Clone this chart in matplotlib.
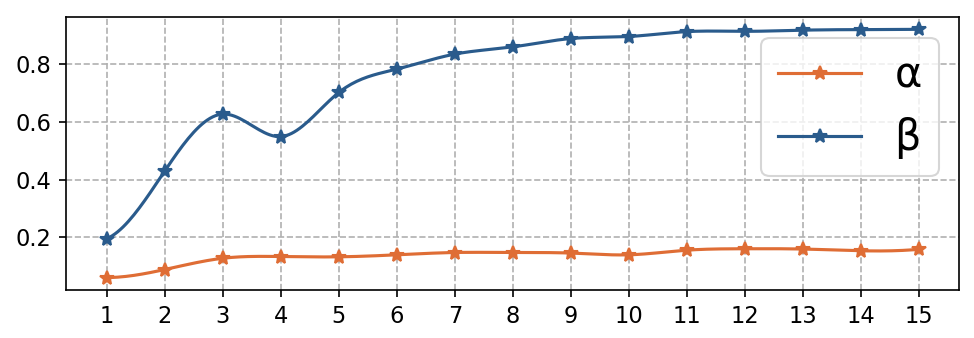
import numpy as np
import matplotlib
matplotlib.use("Agg")
import matplotlib.pyplot as plt

# values
steps = [1, 2, 3, 4, 5, 6, 7, 8, 9, 10, 11, 12, 13, 14, 15]
alpha_vals = [0.060, 0.088, 0.127, 0.133, 0.132, 0.139, 0.147, 0.147, 0.145, 0.139,
              0.155, 0.160, 0.159, 0.153, 0.158]
beta_vals = [0.195, 0.430, 0.627, 0.549, 0.702, 0.783, 0.835, 0.860, 0.889, 0.896,
             0.913, 0.914, 0.918, 0.920, 0.921]

ORANGE = "#DF6D35"
BLUE = "#2A5B8C"


def smooth(x, y, n=300):
    # cubic spline (not-a-knot), same as scipy make_interp_spline k=3
    x = np.asarray(x, float)
    y = np.asarray(y, float)
    try:
        from scipy.interpolate import make_interp_spline
        xs = np.linspace(x[0], x[-1], n)
        return xs, make_interp_spline(x, y, k=3)(xs)
    except ImportError:
        pass
    m = len(x)
    h = np.diff(x)
    A = np.zeros((m, m))
    b = np.zeros(m)
    for i in range(1, m - 1):
        A[i, i - 1] = h[i - 1]
        A[i, i] = 2 * (h[i - 1] + h[i])
        A[i, i + 1] = h[i]
        b[i] = 3 * ((y[i + 1] - y[i]) / h[i] - (y[i] - y[i - 1]) / h[i - 1])
    # not-a-knot ends
    A[0, 0], A[0, 1], A[0, 2] = h[1], -(h[0] + h[1]), h[0]
    A[-1, -3], A[-1, -2], A[-1, -1] = h[-1], -(h[-2] + h[-1]), h[-2]
    c = np.linalg.solve(A, b)
    bb = (y[1:] - y[:-1]) / h - h * (2 * c[:-1] + c[1:]) / 3
    d = (c[1:] - c[:-1]) / (3 * h)
    xs = np.linspace(x[0], x[-1], n)
    idx = np.clip(np.searchsorted(x, xs) - 1, 0, m - 2)
    dx = xs - x[idx]
    ys = y[idx] + bb[idx] * dx + c[idx] * dx ** 2 + d[idx] * dx ** 3
    return xs, ys


fig = plt.figure(figsize=(974 / 150, 338 / 150), dpi=150)
ax = fig.add_axes([0.068, 0.142, 0.917, 0.808])

for vals, col, lab in [(alpha_vals, ORANGE, "α"), (beta_vals, BLUE, "β")]:
    xs, ys = smooth(steps, vals)
    ax.plot(xs, ys, color=col, lw=1.5)
    ax.plot(steps, vals, color=col, lw=0, marker="*", markersize=7)
    ax.plot([], [], color=col, lw=1.5, marker="*", markersize=7, label=lab)

ax.set_xticks(steps)
ax.set_yticks([0.2, 0.4, 0.6, 0.8])
ax.tick_params(labelsize=10.8)
ax.grid(True, linestyle="--", color="#b0b0b0", lw=0.8)
ax.legend(loc="upper right", fontsize=20)

fig.savefig("out.png", dpi=150)
